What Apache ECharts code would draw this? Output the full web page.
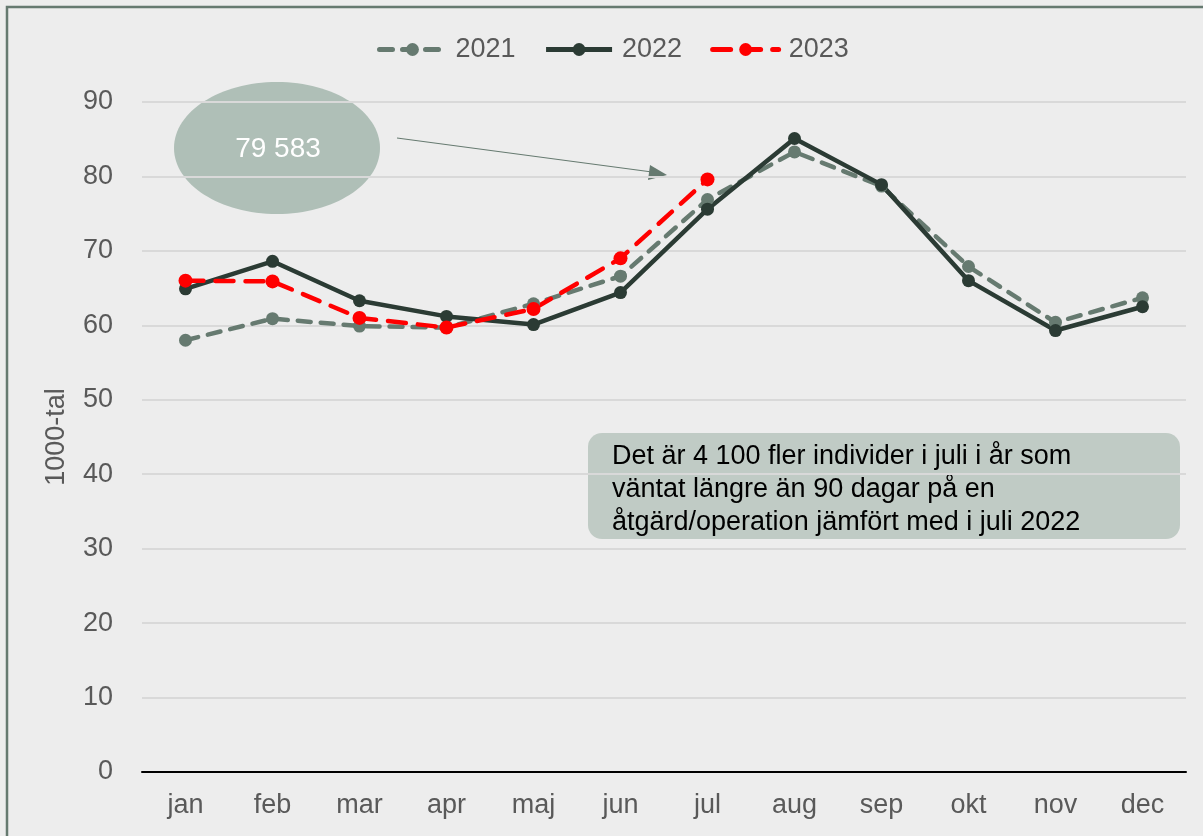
<!DOCTYPE html>
<html>
<head>
<meta charset="utf-8">
<script src="https://cdn.jsdelivr.net/npm/echarts@6/dist/echarts.min.js"></script>
<style>
  html, body { margin: 0; padding: 0; background: #ededed; }
  #chart { width: 1203px; height: 836px; }
</style>
</head>
<body>
<div id="chart"></div>
<script>
// manader och varden (1000-tal)
const months = ['jan', 'feb', 'mar', 'apr', 'maj', 'jun', 'jul', 'aug', 'sep', 'okt', 'nov', 'dec']
const values2021 = [58.0, 60.9, 59.9, 59.7, 62.9, 66.6, 76.9, 83.3, 78.7, 67.9, 60.4, 63.7]
const values2022 = [64.9, 68.6, 63.3, 61.2, 60.1, 64.4, 75.6, 85.1, 78.9, 66.0, 59.3, 62.5]
const values2023 = [66.0, 65.9, 61.0, 59.7, 62.2, 69.0, 79.6]
const yTicks = [0, 10, 20, 30, 40, 50, 60, 70, 80, 90]

const font = 'Liberation Sans, Arial, sans-serif'
const gray = '#667a70'
const dark = '#2b3b34'
const red = '#ff0000'

let myChart = echarts.init(document.getElementById('chart'))
myChart.setOption({
  backgroundColor: '#ededed',
  textStyle: { fontFamily: font },
  legend: {
    top: 31,
    left: 372,
    itemWidth: 66,
    itemHeight: 16,
    itemGap: 28,
    lineStyle: { width: 5 },
    textStyle: { fontSize: 27, color: '#595959', fontFamily: font, padding: [0, 0, 0, 5] },
    data: ['2021', '2022', '2023']
  },
  grid: {
    left: 142,
    right: 17,
    top: 102,
    bottom: 64
  },
  xAxis: {
    type: 'category',
    data: months,
    boundaryGap: true,
    axisLine: { lineStyle: { color: '#000', width: 2 } },
    axisTick: { show: false },
    axisLabel: { fontSize: 27, color: '#595959', margin: 20, fontFamily: font }
  },
  yAxis: {
    type: 'value',
    min: yTicks[0],
    max: yTicks[yTicks.length - 1],
    interval: 10,
    name: '1000-tal',
    nameLocation: 'middle',
    nameGap: 72,
    nameTextStyle: { fontSize: 27, color: '#595959', fontFamily: font },
    axisLine: { show: false },
    axisTick: { show: false },
    axisLabel: { fontSize: 27, color: '#595959', margin: 29, fontFamily: font },
    splitLine: { lineStyle: { color: '#d9d9d9', width: 2 } }
  },
  series: [
    {
      name: '2021',
      type: 'line',
      data: values2021,
      symbol: 'circle',
      symbolSize: 13,
      color: gray,
      lineStyle: { color: gray, width: 4.5, type: [13, 10], cap: 'round' },
      itemStyle: { color: gray }
    },
    {
      name: '2022',
      type: 'line',
      data: values2022,
      symbol: 'circle',
      symbolSize: 13,
      color: dark,
      lineStyle: { color: dark, width: 4.5 },
      itemStyle: { color: dark }
    },
    {
      name: '2023',
      type: 'line',
      data: values2023,
      symbol: 'circle',
      symbolSize: 14,
      color: red,
      lineStyle: { color: red, width: 4.5, type: [18, 12], cap: 'round' },
      itemStyle: { color: red }
    }
  ],
  graphic: [
    {
      type: 'rect',
      shape: { x: 7, y: 7, width: 1400, height: 1000 },
      style: { fill: 'none', stroke: gray, lineWidth: 2.5 },
      silent: true
    },
    {
      type: 'ellipse',
      shape: { cx: 277, cy: 148, rx: 103, ry: 66 },
      style: { fill: '#afbfb7' }
    },
    {
      type: 'text',
      x: 278,
      y: 149,
      style: {
        text: '79 583',
        fill: '#fff',
        fontSize: 28,
        fontFamily: font,
        align: 'center',
        verticalAlign: 'middle'
      }
    },
    {
      type: 'line',
      shape: { x1: 397, y1: 138, x2: 652, y2: 172 },
      style: { stroke: gray, lineWidth: 1.2 }
    },
    {
      type: 'polygon',
      shape: { points: [[667, 175], [650, 165], [648, 180]] },
      style: { fill: gray }
    },
    {
      type: 'rect',
      shape: { x: 588, y: 433, width: 592, height: 106, r: 14 },
      style: { fill: '#c0cbc5' }
    },
    {
      type: 'text',
      x: 612,
      y: 440,
      style: {
        text: 'Det är 4 100 fler individer i juli i år som\nväntat längre än 90 dagar på en\nåtgärd/operation jämfört med i juli 2022',
        fill: '#000',
        fontSize: 27,
        lineHeight: 33,
        fontFamily: font,
        align: 'left',
        verticalAlign: 'top'
      }
    }
  ]
})
</script>
</body>
</html>
